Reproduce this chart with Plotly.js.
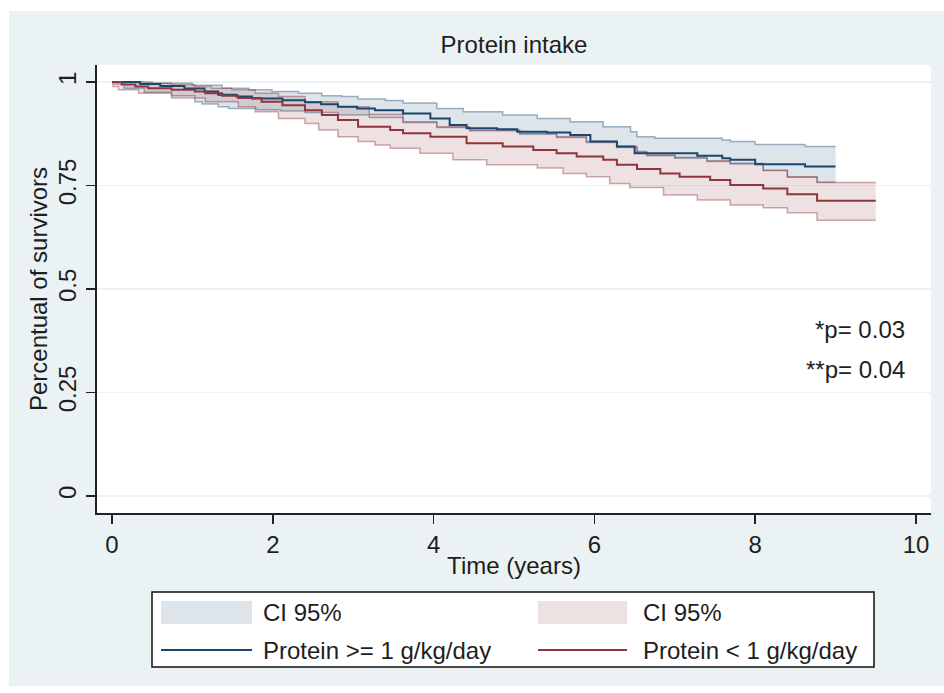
<!DOCTYPE html>
<html>
<head>
<meta charset="utf-8">
<script src="https://cdn.plot.ly/plotly-3.0.1.min.js"></script>
<style>
  html, body { margin:0; padding:0; background:#ffffff; width:944px; height:693px; overflow:hidden; }
  #chart { position:absolute; left:9px; top:11px; width:935px; height:675px; }
</style>
</head>
<body>
<div id="chart"></div>
<script>
// ---- Data (Kaplan-Meier steps) ----
const blueTime = [0, 0.35, 0.6, 0.9, 1.15, 1.32, 1.55, 1.74, 2.12, 2.4, 2.6, 2.81, 3.05, 3.27, 3.62, 3.96, 4.2, 4.41, 4.79, 5.04, 5.41, 5.7, 5.95, 6.28, 6.5, 7.28, 7.59, 7.69, 8.0, 8.62, 9.0];
const blueSurv = [1, 0.995, 0.99, 0.984, 0.977, 0.969, 0.965, 0.96, 0.956, 0.951, 0.946, 0.94, 0.936, 0.932, 0.924, 0.912, 0.896, 0.888, 0.886, 0.88, 0.878, 0.872, 0.856, 0.844, 0.828, 0.822, 0.816, 0.812, 0.801, 0.796, 0.796];

const blueUpTime = [0, 0.5, 1.0, 1.37, 1.7, 1.99, 2.32, 2.61, 2.86, 3.06, 3.4, 3.62, 4.04, 4.37, 4.86, 5.29, 5.7, 6.11, 6.45, 6.53, 6.75, 7.59, 7.69, 8.0, 8.62, 9.0];
const blueUp     = [1, 0.997, 0.992, 0.985, 0.981, 0.977, 0.973, 0.967, 0.965, 0.959, 0.955, 0.949, 0.936, 0.928, 0.92, 0.912, 0.904, 0.892, 0.88, 0.868, 0.864, 0.86, 0.856, 0.849, 0.844, 0.844];

const blueLoTime = [0, 0.15, 0.4, 0.74, 1.03, 1.12, 1.32, 1.45, 1.8, 2.1, 2.4, 2.81, 3.2, 3.62, 4.04, 4.45, 5.07, 5.53, 5.9, 6.28, 6.53, 6.65, 7.0, 7.4, 7.69, 8.1, 8.4, 8.77, 9.0];
const blueLo     = [0.995, 0.985, 0.975, 0.967, 0.952, 0.947, 0.94, 0.936, 0.933, 0.93, 0.926, 0.92, 0.914, 0.902, 0.89, 0.882, 0.874, 0.866, 0.854, 0.842, 0.83, 0.822, 0.816, 0.808, 0.802, 0.786, 0.77, 0.758, 0.758];

const redTime = [0, 0.12, 0.29, 0.45, 0.74, 1.03, 1.16, 1.37, 1.57, 1.86, 2.12, 2.4, 2.61, 2.81, 3.06, 3.46, 3.62, 3.96, 4.41, 4.86, 5.24, 5.53, 5.78, 6.11, 6.28, 6.53, 6.82, 7.06, 7.44, 7.69, 8.1, 8.4, 8.77, 9.5];
const redSurv = [1, 0.994, 0.989, 0.985, 0.981, 0.977, 0.973, 0.967, 0.961, 0.952, 0.944, 0.932, 0.92, 0.908, 0.892, 0.884, 0.876, 0.868, 0.852, 0.844, 0.836, 0.828, 0.82, 0.812, 0.8, 0.79, 0.779, 0.771, 0.763, 0.751, 0.743, 0.729, 0.713, 0.713];

const redUpTime = [0, 0.33, 0.74, 1.03, 1.24, 1.49, 1.78, 2.07, 2.4, 2.81, 3.2, 3.62, 4.04, 4.45, 5.07, 5.53, 5.9, 6.28, 6.53, 6.65, 7.0, 7.4, 7.69, 8.1, 8.4, 8.77, 9.5];
const redUp     = [1, 0.997, 0.993, 0.989, 0.985, 0.981, 0.973, 0.965, 0.952, 0.94, 0.922, 0.904, 0.892, 0.884, 0.876, 0.868, 0.856, 0.844, 0.832, 0.824, 0.818, 0.81, 0.804, 0.787, 0.771, 0.757, 0.757];

const redLoTime = [0, 0.08, 0.33, 0.74, 1.16, 1.57, 1.78, 2.07, 2.4, 2.57, 2.81, 3.06, 3.27, 3.46, 3.83, 4.24, 4.66, 5.29, 5.61, 5.9, 6.19, 6.44, 6.86, 7.28, 7.69, 8.1, 8.4, 8.77, 9.5];
const redLo     = [0.989, 0.981, 0.973, 0.961, 0.952, 0.94, 0.928, 0.912, 0.9, 0.884, 0.868, 0.856, 0.848, 0.84, 0.828, 0.812, 0.8, 0.792, 0.779, 0.771, 0.755, 0.745, 0.727, 0.715, 0.703, 0.696, 0.684, 0.666, 0.666];

const xTickVals = [0, 2, 4, 6, 8, 10];
const yTickVals = [0, 0.25, 0.5, 0.75, 1];
const yTickText = ['0', '0.25', '0.5', '0.75', '1'];

const seriesNames = ['Protein >= 1 g/kg/day', 'Protein < 1 g/kg/day'];
const ciName = 'CI 95%';
const pTexts = ['*p= 0.03', '**p= 0.04'];

// ---- Styles ----
const NAVY = '#1a476f';
const MAROON = '#90353b';
const BLUE_FILL = 'rgba(26,71,111,0.15)';
const RED_FILL = 'rgba(144,53,59,0.15)';
const BLUE_EDGE = 'rgba(26,71,111,0.40)';
const RED_EDGE = 'rgba(144,53,59,0.42)';
const PANEL = '#eaf2f3';
const TXT = '#1e1e1e';
const FONT = 'Liberation Sans, Arial, sans-serif';
const FS = 24;

// page pixel -> paper coordinate helpers (plot area: x 97..931, y 65..513 on the page)
const PX = px => (px - 97) / 834;
const PY = py => (513 - py) / 448;

const traces = [
  { x: blueLoTime, y: blueLo, mode: 'lines', line: { shape: 'hv', color: BLUE_EDGE, width: 1.5 }, showlegend: false, hoverinfo: 'skip' },
  { x: blueUpTime, y: blueUp, mode: 'lines', fill: 'tonexty', fillcolor: BLUE_FILL, line: { shape: 'hv', color: BLUE_EDGE, width: 1.5 }, name: ciName, showlegend: false },
  { x: redLoTime, y: redLo, mode: 'lines', line: { shape: 'hv', color: RED_EDGE, width: 1.5 }, showlegend: false, hoverinfo: 'skip' },
  { x: redUpTime, y: redUp, mode: 'lines', fill: 'tonexty', fillcolor: RED_FILL, line: { shape: 'hv', color: RED_EDGE, width: 1.5 }, name: ciName, showlegend: false },
  { x: blueTime, y: blueSurv, mode: 'lines', line: { shape: 'hv', color: NAVY, width: 2 }, name: seriesNames[0], showlegend: false },
  { x: redTime, y: redSurv, mode: 'lines', line: { shape: 'hv', color: MAROON, width: 2 }, name: seriesNames[1], showlegend: false }
];

// custom legend (Stata-style 2x2 key)
const shapes = [
  { type: 'rect', xref: 'paper', yref: 'paper', x0: PX(152), x1: PX(874), y0: PY(667), y1: PY(592), fillcolor: '#ffffff', line: { color: '#111', width: 1.5 } },
  { type: 'rect', xref: 'paper', yref: 'paper', x0: PX(161), x1: PX(252), y0: PY(624), y1: PY(601), fillcolor: BLUE_FILL, line: { width: 0 } },
  { type: 'rect', xref: 'paper', yref: 'paper', x0: PX(538), x1: PX(627), y0: PY(624), y1: PY(601), fillcolor: RED_FILL, line: { width: 0 } },
  { type: 'line', xref: 'paper', yref: 'paper', x0: PX(161), x1: PX(252), y0: PY(650), y1: PY(650), line: { color: NAVY, width: 2 } },
  { type: 'line', xref: 'paper', yref: 'paper', x0: PX(538), x1: PX(627), y0: PY(650), y1: PY(650), line: { color: MAROON, width: 2 } }
];

const annFont = { family: FONT, size: FS, color: TXT };
const annotations = [
  { xref: 'paper', yref: 'paper', x: PX(261), y: PY(612), text: ciName, showarrow: false, xanchor: 'left', yanchor: 'middle', font: annFont },
  { xref: 'paper', yref: 'paper', x: PX(641), y: PY(612), text: ciName, showarrow: false, xanchor: 'left', yanchor: 'middle', font: annFont },
  { xref: 'paper', yref: 'paper', x: PX(261), y: PY(650), text: seriesNames[0], showarrow: false, xanchor: 'left', yanchor: 'middle', font: annFont },
  { xref: 'paper', yref: 'paper', x: PX(641), y: PY(650), text: seriesNames[1], showarrow: false, xanchor: 'left', yanchor: 'middle', font: annFont },
  { xref: 'paper', yref: 'paper', x: PX(907), y: PY(329), text: pTexts[0], showarrow: false, xanchor: 'right', yanchor: 'middle', font: annFont },
  { xref: 'paper', yref: 'paper', x: PX(907), y: PY(369), text: pTexts[1], showarrow: false, xanchor: 'right', yanchor: 'middle', font: annFont }
];

const layout = {
  width: 935, height: 675,
  margin: { l: 88, r: 13, t: 54, b: 173, pad: 0 },
  paper_bgcolor: PANEL,
  plot_bgcolor: '#ffffff',
  font: { family: FONT, size: FS, color: TXT },
  title: { text: 'Protein intake', font: { family: FONT, size: FS, color: TXT }, xref: 'paper', x: 0.5, xanchor: 'center', yref: 'container', y: 1 - 34 / 675, yanchor: 'middle' },
  xaxis: {
    range: [-0.187, 10.187], tickvals: xTickVals, ticktext: xTickVals.map(String),
    showgrid: false, zeroline: false, showline: true, linecolor: '#222', linewidth: 2,
    ticks: 'outside', ticklen: 9, tickwidth: 1.5, tickcolor: '#222',
    tickfont: { family: FONT, size: FS, color: TXT },
    title: { text: 'Time (years)', font: { family: FONT, size: FS, color: TXT }, standoff: 0 },
    fixedrange: true
  },
  yaxis: {
    range: [-0.041, 1.041], tickvals: yTickVals, ticktext: yTickText, tickangle: -90,
    showgrid: true, gridcolor: PANEL, gridwidth: 1.5, zeroline: false, showline: true, linecolor: '#222', linewidth: 2,
    ticks: 'outside', ticklen: 9, tickwidth: 1.5, tickcolor: '#222',
    tickfont: { family: FONT, size: FS, color: TXT },
    title: { text: 'Percentual of survivors', font: { family: FONT, size: FS, color: TXT }, standoff: 0 },
    fixedrange: true
  },
  showlegend: false,
  shapes: shapes,
  annotations: annotations
};

Plotly.newPlot('chart', traces, layout, { displayModeBar: false, staticPlot: true });
</script>
</body>
</html>
